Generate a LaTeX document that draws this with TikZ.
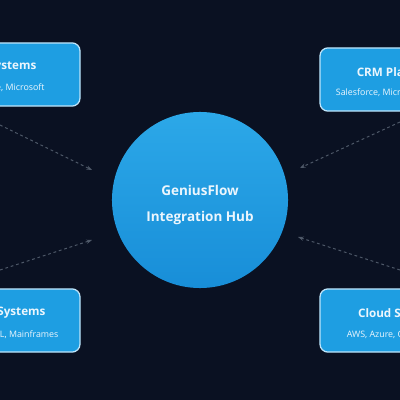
\documentclass[tikz,border=0pt]{standalone}
\usepackage{fontspec}
\setmainfont{Open Sans}
\usepackage{xcolor}
\definecolor{NightNavy}{RGB}{10,17,34}
\definecolor{BoxBlue}{RGB}{30,158,226}
\definecolor{BoxEdge}{RGB}{190,228,250}
\definecolor{HubTop}{RGB}{44,168,232}
\definecolor{HubBottom}{RGB}{24,142,216}
\definecolor{LinkGrey}{RGB}{78,88,104}
\definecolor{SoftWhite}{RGB}{236,246,253}
\usetikzlibrary{arrows.meta}

\begin{document}
\begin{tikzpicture}[x=0.025cm, y=-0.025cm,
    sysbox/.style={draw=BoxEdge, line width=0.9pt, fill=BoxBlue, rounded corners=0.2cm,
        minimum width=4cm, minimum height=1.58cm},
    boxtitle/.style={text=SoftWhite, font=\bfseries\fontsize{8.3}{10}\selectfont},
    boxsub/.style={text=SoftWhite, font=\fontsize{6.3}{7.5}\selectfont},
    hubtext/.style={text=SoftWhite, font=\bfseries\fontsize{9.6}{11}\selectfont},
    link/.style={draw=LinkGrey, line width=0.7pt, dash pattern=on 2pt off 2pt, -{Stealth[length=4pt]}}]
    % Background
    \useasboundingbox (0,0) rectangle (400,400);
    \fill[NightNavy] (0,0) rectangle (400,400);
    \clip (0,0) rectangle (400,400);

    % Hub
    \node[circle, minimum size=4.4cm, inner sep=0pt, top color=HubTop, bottom color=HubBottom] (hub) at (200,200) {};
    \node[hubtext] (hubname) at (200,190) {GeniusFlow};
    \node[hubtext] (hubrole) at (200,218) {Integration Hub};

    % Systems
    \node[sysbox] (erp) at (0,74.5) {};
    \node[boxtitle] (erptitle) at (0,67) {ERP Systems};
    \node[boxsub] (erpsub) at (0,88) {SAP, Oracle, Microsoft};

    \node[sysbox] (crm) at (400,79.5) {};
    \node[boxtitle] (crmtitle) at (400,72) {CRM Platforms};
    \node[boxsub] (crmsub) at (400,93) {Salesforce, Microsoft Dynamics};

    \node[sysbox] (legacy) at (0,320.5) {};
    \node[boxtitle] (legacytitle) at (0,313) {Legacy Systems};
    \node[boxsub] (legacysub) at (0,335) {AS/400, COBOL, Mainframes};

    \node[sysbox] (cloud) at (400,320.5) {};
    \node[boxtitle] (cloudtitle) at (400,313) {Cloud Services};
    \node[boxsub] (cloudsub) at (400,335) {AWS, Azure, Google Cloud};

    % Links
    \coordinate (erpout) at (0,125);
    \coordinate (erpin) at (92,170);
    \coordinate (legacyout) at (0,270);
    \coordinate (legacyin) at (92,240);
    \coordinate (crmout) at (400,122);
    \coordinate (crmin) at (300,168);
    \coordinate (cloudout) at (400,270);
    \coordinate (cloudin) at (298,237);
    \draw[link] (erpout) -- (erpin);
    \draw[link] (legacyout) -- (legacyin);
    \draw[link] (crmout) -- (crmin);
    \draw[link] (cloudout) -- (cloudin);
\end{tikzpicture}
\end{document}
